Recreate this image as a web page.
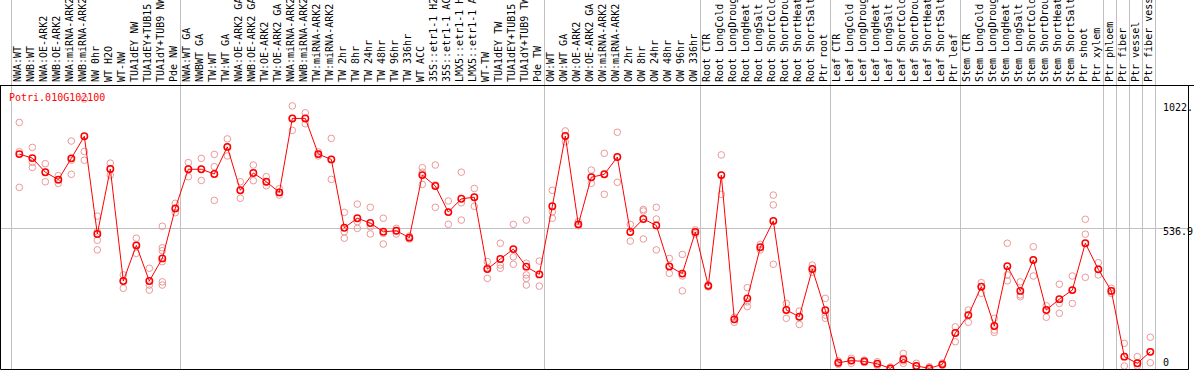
<!DOCTYPE html>
<html>
<head>
<meta charset="utf-8">
<script src="https://cdn.jsdelivr.net/npm/d3@7"></script>
<style>
  body { margin: 0; background: #fff; }
  text { font-family: "DejaVu Sans Mono", monospace; font-size: 10px; }
</style>
</head>
<body>
<div id="chart"></div>
<script>
// Expression profile of one gene across samples

var geneName = "Potri.010G102100";

var sampleLabels = [
  "NWA:WT", "NWB:WT", "NWA:OE-ARK2", "NWB:OE-ARK2", "NWA:miRNA-ARK2", "NWB:miRNA-ARK2",
  "NW 0hr", "WT H2O", "WT-NW", "TUA1dEY NW", "TUA1dEY+TUB15 NW", "TUA1dY+TUB9 NW", "Pde NW",
  "NWA:WT GA", "NWBWT GA", "TW:WT", "TW:WT GA", "NWA:OE-ARK2 GA", "NWB:OE-ARK2 GA",
  "TW:OE-ARK2", "TW:OE-ARK2 GA", "NWA:miRNA-ARK2", "NWB:miRNA-ARK2", "TW:miRNA-ARK2",
  "TW:miRNA-ARK2", "TW 2hr", "TW 8hr", "TW 24hr", "TW 48hr", "TW 96hr", "TW 336hr",
  "WT ACC", "35S::etr1-1 H2O", "35S::etr1-1 ACC", "LMX5::etr1-1 H2O", "LMX5::etr1-1 ACC",
  "WT-TW", "TUA1dEY TW", "TUA1dEY+TUB15 TW", "TUA1dY+TUB9 TW", "Pde TW",
  "OW:WT", "OW:WT GA", "OW:OE-ARK2", "OW:OE-ARK2 GA", "OW:miRNA-ARK2", "OW:miRNA-ARK2",
  "OW 2hr", "OW 8hr", "OW 24hr", "OW 48hr", "OW 96hr", "OW 336hr",
  "Root CTR", "Root LongCold", "Root LongDrought", "Root LongHeat", "Root LongSalt",
  "Root ShortCold", "Root ShortDrought", "Root ShortHeat", "Root ShortSalt", "Ptr root",
  "Leaf CTR", "Leaf LongCold", "Leaf LongDrought", "Leaf LongHeat", "Leaf LongSalt",
  "Leaf ShortCold", "Leaf ShortDrought", "Leaf ShortHeat", "Leaf ShortSalt", "Ptr leaf",
  "Stem CTR", "Stem LongCold", "Stem LongDrought", "Stem LongHeat", "Stem LongSalt",
  "Stem ShortCold", "Stem ShortDrought", "Stem ShortHeat", "Stem ShortSalt", "Ptr shoot",
  "Ptr xylem", "Ptr phloem", "Ptr fiber", "Ptr vessel", "Ptr fiber vessel"
];

// index of the first sample of every group (last entry closes the final group)
var groupStarts = [0, 13, 41, 53, 63, 73, 84, 85, 86, 87, 88];

var meanValues = [
  815, 800, 747, 719, 799, 882, 515, 759, 338, 472, 338, 423, 611,
  758, 758, 740, 842, 679, 744, 711, 671, 949, 949, 815, 795, 538, 574, 556, 523, 527,
  501, 736, 695, 597, 647, 653, 383, 421, 458, 392, 363,
  619, 883, 551, 728, 739, 804, 522, 571, 547, 393, 366, 522,
  320, 736, 194, 273, 465, 564, 229, 204, 383, 228,
  31, 39, 36, 27, 10, 44, 19, 10, 25, 143,
  210, 317, 169, 394, 301, 417, 229, 270, 304, 480, 382,
  301, 54, 29, 72
];

var replicateValues = [
  [934, 824, 690], [840, 784, 765], [779, 747, 711], [734, 718, 705],
  [864, 792, 739], [1022, 825, 792], [582, 523, 491, 455], [781, 759, 736],
  [361, 338, 311], [499, 472, 442], [386, 323, 304], [544, 463, 452, 411, 335, 323],
  [630, 611, 595], [783, 758, 730], [799, 758, 716], [814, 768, 641],
  [872, 842, 808], [711, 679, 649], [774, 744, 715], [730, 711, 696],
  [685, 671, 661], [996, 949, 904], [970, 949, 929], [823, 815, 808],
  [874, 795, 720], [596, 523, 499], [627, 561, 536], [615, 542, 515],
  [574, 517, 477], [536, 527, 515], [507, 501, 496], [764, 747, 701],
  [774, 699, 615], [639, 597, 551], [747, 632, 567], [686, 653, 619],
  [411, 388, 348], [480, 398, 386], [551, 429, 401], [567, 405, 361, 348, 323],
  [413, 363, 319], [679, 598, 574], [902, 883, 861], [561, 551, 546],
  [755, 728, 705], [818, 739, 664], [897, 804, 709], [551, 522, 488],
  [607, 601, 496], [615, 571, 455], [423, 393, 367], [438, 357, 301],
  [530, 522, 515], [324, 320, 316], [812, 736, 664], [202, 194, 183],
  [313, 260, 242], [476, 465, 455], [661, 624, 401], [254, 229, 198],
  [225, 204, 175], [398, 383, 371], [273, 210, 198], [38, 31, 25],
  [48, 39, 29], [41, 36, 32], [35, 27, 20], [15, 10, 6],
  [66, 38, 29], [29, 19, 10], [16, 10, 5], [30, 25, 21],
  [166, 143, 110], [229, 210, 183], [332, 317, 292], [198, 154, 145],
  [480, 361, 339], [335, 286, 279], [467, 417, 357], [245, 229, 202],
  [326, 254, 217], [357, 304, 254], [570, 514, 352], [407, 382, 361],
  [311, 301, 292], [104, 54, 19], [54, 29, 19], [127, 72, 31]
];

var yTickValues = [0, 536.9, 1022];
var yTickLabels = ["0", "536.9", "1022."];

// Layout
var width = 1194;
var height = 370;
var headTop = 85;      // line under the sample names
var plotBottom = 369;
var frameRight = 1188;
var plotLeft = 11;
var plotRight = 1155;

var svg = d3
  .select("#chart")
  .append("svg")
  .attr("width", width)
  .attr("height", height);

var xScale = d3
  .scaleBand()
  .domain(d3.range(sampleLabels.length))
  .range([plotLeft, plotRight]);

var yScale = d3
  .scaleLinear()
  .domain([0, 1022])
  .range([371, 99]);

function dotX(i) {
  return xScale(i) + xScale.bandwidth() * 0.64;
}

function crisp(v) {
  return Math.round(v) + 0.5;
}

// grey group separators run through the name area too
svg.append("g")
  .selectAll("line")
  .data(groupStarts)
  .enter()
  .append("line")
  .attr("x1", function(d) { return crisp(d < sampleLabels.length ? xScale(d) : plotRight); })
  .attr("x2", function(d) { return crisp(d < sampleLabels.length ? xScale(d) : plotRight); })
  .attr("y1", 0)
  .attr("y2", plotBottom)
  .attr("stroke", "#c0c0c0");

// middle reference line
svg.append("line")
  .attr("x1", 1)
  .attr("x2", frameRight)
  .attr("y1", crisp(yScale(yTickValues[1])))
  .attr("y2", crisp(yScale(yTickValues[1])))
  .attr("stroke", "#c0c0c0");

// frame
svg.append("line")
  .attr("x1", 0).attr("x2", width)
  .attr("y1", headTop + 0.5).attr("y2", headTop + 0.5)
  .attr("stroke", "#000");
svg.append("path")
  .attr("d", "M0.5," + headTop + "V" + (plotBottom + 0.5) + "H" + (frameRight + 0.5) + "V" + headTop)
  .attr("fill", "none")
  .attr("stroke", "#000");

// sample names, rotated
svg.append("g")
  .selectAll("text")
  .data(sampleLabels)
  .enter()
  .append("text")
  .attr("transform", function(d, i) {
    return "translate(" + (dotX(i) + 1.8) + "," + 82 + ")rotate(-90)";
  })
  .attr("fill", "#000")
  .text(function(d) { return d; });

// y labels on the right
svg.append("g")
  .selectAll("text")
  .data(yTickValues)
  .enter()
  .append("text")
  .attr("x", 1163)
  .attr("y", function(d) {
    return Math.min(Math.max(yScale(d) + 7, 111), 366);
  })
  .attr("fill", "#000")
  .text(function(d, i) { return yTickLabels[i]; });

// clip data to the plot frame
svg.append("clipPath")
  .attr("id", "plotClip")
  .append("rect")
  .attr("x", 1)
  .attr("y", headTop + 1)
  .attr("width", frameRight - 1)
  .attr("height", plotBottom - headTop - 1);

var plot = svg.append("g").attr("clip-path", "url(#plotClip)");

// individual replicates
var repPoints = [];
replicateValues.forEach(function(reps, i) {
  reps.forEach(function(v) {
    repPoints.push({ i: i, v: v });
  });
});

plot.append("g")
  .selectAll("circle")
  .data(repPoints)
  .enter()
  .append("circle")
  .attr("cx", function(d) { return dotX(d.i); })
  .attr("cy", function(d) { return yScale(d.v); })
  .attr("r", 3.3)
  .attr("fill", "none")
  .attr("stroke", "#ec9898")
  .attr("stroke-width", 1);

// mean profile
var line = d3
  .line()
  .x(function(d, i) { return dotX(i); })
  .y(function(d) { return yScale(d); });

plot.append("path")
  .datum(meanValues)
  .attr("d", line)
  .attr("fill", "none")
  .attr("stroke", "#ff0000")
  .attr("stroke-width", 1);

plot.append("g")
  .selectAll("circle")
  .data(meanValues)
  .enter()
  .append("circle")
  .attr("cx", function(d, i) { return dotX(i); })
  .attr("cy", function(d) { return yScale(d); })
  .attr("r", 3.2)
  .attr("fill", "none")
  .attr("stroke", "#ff0000")
  .attr("stroke-width", 1.5);

// gene name
svg.append("text")
  .attr("x", 9)
  .attr("y", 101)
  .attr("fill", "#ff0000")
  .text(geneName);
</script>
</body>
</html>
